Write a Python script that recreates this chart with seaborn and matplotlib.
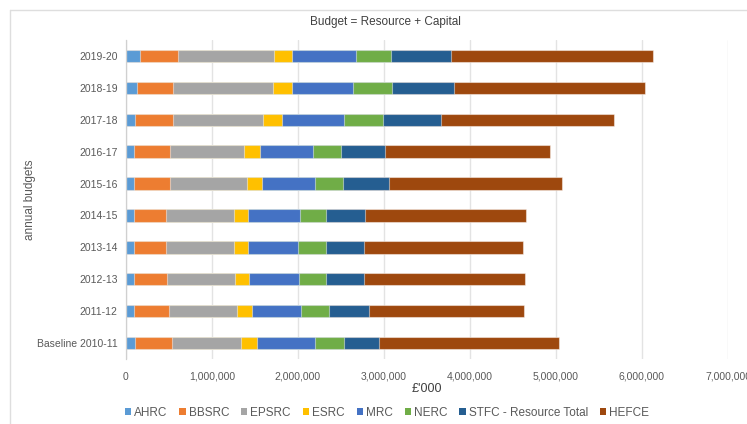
import matplotlib
matplotlib.use("Agg")
import matplotlib.pyplot as plt
from matplotlib.lines import Line2D
from matplotlib.patches import Patch
from matplotlib.ticker import FuncFormatter, MultipleLocator
import seaborn as sns
import pandas as pd
import numpy as np

years = ["2019-20", "2018-19", "2017-18", "2016-17", "2015-16",
         "2014-15", "2013-14", "2012-13", "2011-12", "Baseline 2010-11"]
series_names = ["AHRC", "BBSRC", "EPSRC", "ESRC", "MRC", "NERC",
                "STFC - Resource Total", "HEFCE"]

AHRC  = [163, 124, 105, 93, 93, 93, 93, 93, 93, 101]
BBSRC = [442, 426, 445, 419, 419, 376, 376, 388, 411, 430]
EPSRC = [1112, 1155, 1047, 860, 895, 783, 783, 786, 791, 810]
ESRC  = [210, 222, 213, 186, 178, 163, 163, 167, 174, 186]
MRC   = [747, 713, 729, 613, 613, 608, 589, 578, 566, 674]
NERC  = [404, 449, 449, 329, 329, 303, 322, 314, 329, 338]
STFC  = [698, 725, 675, 516, 527, 453, 438, 445, 465, 399]
HEFCE = [2355, 2217, 2011, 1914, 2012, 1872, 1848, 1872, 1803, 2093]

values = [AHRC, BBSRC, EPSRC, ESRC, MRC, NERC, STFC, HEFCE]
colors = ["#5B9BD5", "#ED7D31", "#A5A5A5", "#FFC000", "#4472C4",
          "#70AD47", "#255E91", "#9E480E"]

sns.set_theme(style="white")
plt.rcParams["font.family"] = ["Liberation Sans", "DejaVu Sans"]

W, H = 747, 424
fig = plt.figure(figsize=(W / 100, H / 100), dpi=100)
ax = fig.add_axes([126 / W, 1 - 359 / H, (728 - 126) / W, (359 - 40) / H])

arr = np.array(values, dtype=float) * 1000
cum = np.cumsum(arr, axis=0)

rows = []
for i, name in enumerate(series_names):
    for j, y in enumerate(years):
        rows.append({"year": y, "series": name, "cum": cum[i, j]})
df = pd.DataFrame(rows)

for i in range(len(series_names) - 1, -1, -1):
    sub = df[df["series"] == series_names[i]]
    sns.barplot(data=sub, x="cum", y="year", order=years, orient="y",
                color=colors[i], width=0.39, ax=ax, saturation=1,
                edgecolor=(1, 1, 1, 0.45), linewidth=0.8, errorbar=None)

ax.set_xlim(0, 7_000_000)
ax.xaxis.set_major_locator(MultipleLocator(1_000_000))
ax.xaxis.set_major_formatter(FuncFormatter(lambda v, p: f"{int(v):,}"))
ax.grid(axis="x", color="#e3e3e3", linewidth=1)
ax.set_axisbelow(True)
for s in ["top", "right", "bottom"]:
    ax.spines[s].set_visible(False)
ax.spines["left"].set_color("#d0d0d0")
ax.spines["left"].set_linewidth(0.9)
ax.tick_params(axis="both", length=0, labelsize=7.5, colors="#595959", pad=6)
ax.tick_params(axis="x", pad=9)
ax.set_ylabel("annual budgets", fontsize=8.5, color="#595959")
ax.yaxis.set_label_coords((36 - 126) / (728 - 126), 0.5)
ax.set_xlabel("£'000", fontsize=9, color="#404040")
ax.xaxis.set_label_coords(0.5, -(383 - 359) / (359 - 40))

fig.text(385 / W, 1 - 22 / H, "Budget = Resource + Capital", ha="center",
         va="center", fontsize=8.5, color="#404040")

handles = [Patch(facecolor=c, edgecolor="none") for c in colors]
fig.legend(handles, series_names, loc="center", bbox_to_anchor=(387 / W, 1 - 413 / H),
           ncol=8, frameon=False, fontsize=8.5, handlelength=0.55, handleheight=0.55,
           handletextpad=0.25, columnspacing=1.0, labelcolor="#595959")

fig.add_artist(Line2D([10 / W, 1], [1 - 9.5 / H, 1 - 9.5 / H], color="#dedede", lw=1))
fig.add_artist(Line2D([10 / W, 10 / W], [0, 1 - 9.5 / H], color="#dedede", lw=1))

fig.savefig("out.png", dpi=100)
